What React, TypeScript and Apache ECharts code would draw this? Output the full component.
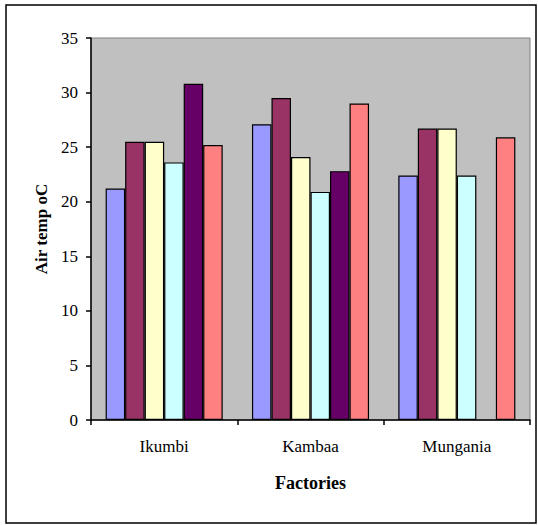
import React, { useEffect, useRef } from "react";
import * as echarts from "echarts";

// Air temperature readings per factory, six sampling series
const factories = ["Ikumbi", "Kambaa", "Mungania"];
const seriesNames = ["Series 1", "Series 2", "Series 3", "Series 4", "Series 5", "Series 6"];
const series1 = [21.2, 27.1, 22.4];
const series2 = [25.5, 29.5, 26.7];
const series3 = [25.5, 24.1, 26.7];
const series4 = [23.6, 20.9, 22.4];
const series5 = [30.8, 22.8, null];
const series6 = [25.2, 29.0, 25.9];
const seriesColors = ["#9999FF", "#993366", "#FFFFCC", "#CCFFFF", "#660066", "#FF8080"];

const FONT = "'Liberation Serif', 'Times New Roman', serif";

export default function App() {
  const ref = useRef<HTMLDivElement>(null);

  useEffect(() => {
    if (!ref.current) return;
    const chart = echarts.init(ref.current, undefined, { renderer: "svg" });
    const allSeries = [series1, series2, series3, series4, series5, series6];

    chart.setOption({
      animation: false,
      backgroundColor: "#FFFFFF",
      graphic: [
        {
          type: "rect",
          shape: { x: 6, y: 5, width: 530, height: 518 },
          style: { fill: "none", stroke: "#000000", lineWidth: 1.5 },
          silent: true,
        },
      ],
      grid: {
        left: 91,
        top: 38,
        right: 8,
        bottom: 105,
        show: true,
        backgroundColor: "#C0C0C0",
        borderColor: "#808080",
        borderWidth: 1,
      },
      xAxis: {
        type: "category",
        data: factories,
        name: "Factories",
        nameLocation: "middle",
        nameGap: 54,
        nameTextStyle: { fontFamily: FONT, fontWeight: "bold", fontSize: 18, color: "#000" },
        axisLine: { show: true, lineStyle: { color: "#000", width: 1.5 } },
        axisTick: { show: true, length: 5, lineStyle: { color: "#000", width: 1.5 } },
        axisLabel: { fontFamily: FONT, fontSize: 17, color: "#000", margin: 18 },
        splitLine: { show: false },
      },
      yAxis: {
        type: "value",
        min: 0,
        max: 35,
        interval: 5,
        name: "Air temp oC",
        nameLocation: "middle",
        nameGap: 35,
        nameRotate: 90,
        nameTextStyle: { fontFamily: FONT, fontWeight: "bold", fontSize: 17, color: "#000" },
        axisLine: { show: true, lineStyle: { color: "#000", width: 1.5 } },
        axisTick: { show: true, length: 5, lineStyle: { color: "#000", width: 1.5 } },
        axisLabel: { fontFamily: FONT, fontSize: 17, color: "#000", margin: 13 },
        splitLine: { show: false },
      },
      series: allSeries.map((d, i) => ({
        type: "bar",
        name: seriesNames[i],
        data: d,
        barGap: "0%",
        barCategoryGap: "20%",
        itemStyle: { color: seriesColors[i], borderColor: "#000", borderWidth: 1.2 },
      })),
    });

    return () => chart.dispose();
  }, []);

  return (
    <div
      ref={ref}
      style={{ position: "fixed", left: 0, top: 0, width: 538, height: 525 }}
    />
  );
}
